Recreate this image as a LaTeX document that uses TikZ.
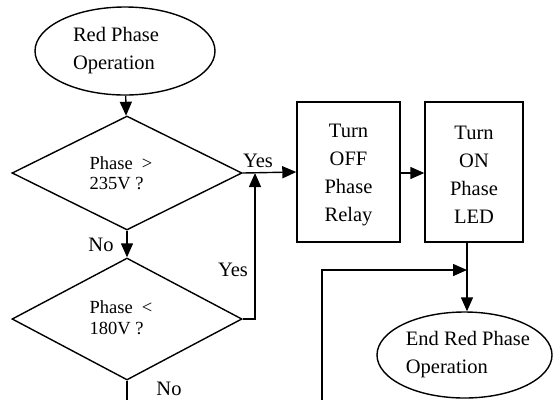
\documentclass[tikz,border=0pt]{standalone}
\usepackage{fontspec}
\setmainfont{Liberation Serif}
\usetikzlibrary{shapes.geometric,arrows.meta}
\begin{document}
\begin{tikzpicture}[x=1pt,y=1pt,
  every node/.style={font=\fontsize{20.5}{28}\selectfont},
  line/.style={line width=1.4pt},
  arr/.style={line, -{Triangle[length=14pt,width=12pt]}},
  term/.style={ellipse, draw, line width=1.4pt, align=left, inner sep=0pt},
  dec/.style={diamond, draw, line width=1.4pt, inner sep=0pt},
  dtext/.style={align=left, inner sep=0pt, font=\fontsize{18.5}{21}\selectfont},
  proc/.style={rectangle, draw, line width=1.4pt, align=center, inner sep=0pt},
  lab/.style={inner sep=0pt}
]
\useasboundingbox (0,0) rectangle (553,-400);
\node[term, minimum width=180, minimum height=88] (start) at (125,-51) {};
\node[align=left, inner sep=0pt] (starttext) at (116,-51) {Red Phase\\Operation};
\node[dec, minimum width=230, minimum height=114] (d1) at (127,-173) {};
\node[dtext] (d1text) at (121,-173) {Phase\ \ >\\[-1pt]235V ?};
\node[dec, minimum width=230, minimum height=122] (d2) at (127,-319) {};
\node[dtext] (d2text) at (121,-318) {Phase\ \ <\\180V ?};
\node[proc, minimum width=103, minimum height=140] (b1) at (348.5,-172) {};
\node[align=center, inner sep=0pt] (b1text) at (348.5,-175) {Turn\\OFF\\Phase\\Relay};
\node[proc, minimum width=98, minimum height=140] (b2) at (474,-172) {};
\node[align=center, inner sep=0pt] (b2text) at (474,-175) {Turn\\ON\\Phase\\LED};
\node[term, minimum width=175, minimum height=86] (end) at (464.5,-355) {};
\node[align=left, inner sep=0pt] (endtext) at (468,-355) {End Red Phase\\Operation};
\coordinate (j) at (467,-270);
\coordinate (yj) at (255,-173);
\coordinate (lb) at (322,-400);
\coordinate (db) at (127,-400);
\draw[arr] (start) -- (d1);
\draw[arr] (d1) -- (d2);
\draw[arr] (d1.east) -- (b1.west);
\draw[arr] (b1.east |- 0,-173) -- (b2.west |- 0,-173);
\draw[arr] (d2.east) -| (yj);
\draw[line] (j |- b2.south) -- (j);
\draw[arr] (j) -- (end.north -| j);
\draw[arr] (lb) |- (j);
\draw[line] (d2.south) -- (db);
\node[lab] (y1) at (258,-161) {Yes};
\node[lab] (n1) at (101,-245) {No};
\node[lab] (y2) at (233,-270) {Yes};
\node[lab] (n2) at (169,-389) {No};
\end{tikzpicture}
\end{document}
